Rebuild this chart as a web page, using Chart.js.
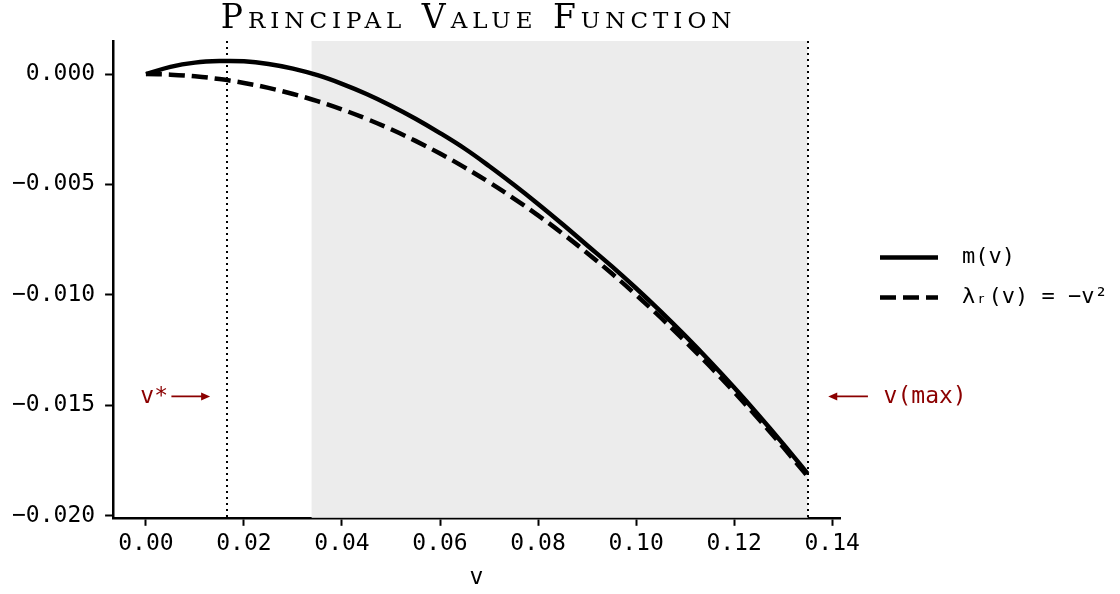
<!DOCTYPE html>
<html>
<head>
<meta charset="utf-8">
<title>Principal Value Function</title>
<script src="https://cdn.jsdelivr.net/npm/chart.js"></script>
<style>
  html, body { margin: 0; padding: 0; background: #fff; }
</style>
</head>
<body>
<canvas id="chart" width="1120" height="594"></canvas>
<script>
// sample points along v
const v = [0, 0.005, 0.010, 0.015, 0.020, 0.025, 0.030, 0.035, 0.040, 0.045,
           0.050, 0.055, 0.060, 0.065, 0.070, 0.075, 0.080, 0.085, 0.090, 0.095,
           0.100, 0.105, 0.110, 0.115, 0.120, 0.125, 0.130, 0.135];
// principal value m(v)
const mv = [0, 0.00033, 0.00052, 0.00059, 0.00058, 0.00046, 0.00025, -0.00005, -0.00044, -0.00090,
            -0.00143, -0.00202, -0.00267, -0.00337, -0.00416, -0.00500, -0.00588, -0.00680, -0.00775, -0.00870,
            -0.00970, -0.01075, -0.01185, -0.01300, -0.01420, -0.01545, -0.01675, -0.01810];
// lambda_r(v) = -v^2
const lambdaR = [0, -0.000025, -0.0001, -0.000225, -0.0004, -0.000625, -0.0009, -0.001225, -0.0016, -0.002025,
                 -0.0025, -0.003025, -0.0036, -0.004225, -0.0049, -0.005625, -0.0064, -0.007225, -0.0081, -0.009025,
                 -0.01, -0.011025, -0.0121, -0.013225, -0.0144, -0.015625, -0.0169, -0.018225];

const xTicks = [0, 0.02, 0.04, 0.06, 0.08, 0.10, 0.12, 0.14];
const xTickLabels = ['0.00', '0.02', '0.04', '0.06', '0.08', '0.10', '0.12', '0.14'];
const yTicks = [0, -0.005, -0.010, -0.015, -0.020];
const yTickLabels = ['0.000', '\u22120.005', '\u22120.010', '\u22120.015', '\u22120.020'];

const vStar = 0.0165;   // optimum of m(v)
const vMax = 0.135;
const vZero = 0.0338;   // m(v) changes sign here, start of the shaded band

const arrowLabels = ['v*', 'v(max)'];
const arrowLabelX = [0.0045, 0.1505];
const arrowTail = [0.0052, 0.1473];
const arrowHead = [0.0131, 0.1392];
const arrowY = -0.0146;

const MONO = '"DejaVu Sans Mono", monospace';
const RED = '#8b0000';

const extras = {
  id: 'extras',
  beforeDatasetsDraw(chart) {
    const { ctx, chartArea: a, scales: { x } } = chart;
    ctx.save();
    ctx.fillStyle = '#ececec';
    ctx.fillRect(x.getPixelForValue(vZero), a.top, x.getPixelForValue(vMax) - x.getPixelForValue(vZero), a.bottom - a.top);
    ctx.restore();
  },
  afterDatasetsDraw(chart) {
    const { ctx, chartArea: a, scales: { x } } = chart;
    ctx.save();
    ctx.strokeStyle = '#000';
    ctx.lineWidth = 2;
    ctx.setLineDash([2, 4]);
    [vStar, vMax].forEach(val => {
      const px = Math.round(x.getPixelForValue(val));
      ctx.beginPath();
      ctx.moveTo(px, a.top);
      ctx.lineTo(px, a.bottom);
      ctx.stroke();
    });
    ctx.restore();
  },
  afterDraw(chart) {
    const { ctx, chartArea: a, scales: { x, y } } = chart;
    ctx.save();

    // arrows pointing at v* and v(max)
    const py = y.getPixelForValue(arrowY);
    ctx.strokeStyle = RED;
    ctx.fillStyle = RED;
    ctx.lineWidth = 1.8;
    ctx.font = '23px ' + MONO;
    ctx.textBaseline = 'middle';
    arrowLabels.forEach((txt, i) => {
      const x0 = x.getPixelForValue(arrowTail[i]);
      const x1 = x.getPixelForValue(arrowHead[i]);
      const dir = Math.sign(x1 - x0);
      ctx.beginPath();
      ctx.moveTo(x0, py);
      ctx.lineTo(x1 - dir * 6, py);
      ctx.stroke();
      ctx.beginPath();
      ctx.moveTo(x1, py);
      ctx.lineTo(x1 - dir * 9, py - 4);
      ctx.lineTo(x1 - dir * 9, py + 4);
      ctx.closePath();
      ctx.fill();
      ctx.textAlign = dir > 0 ? 'right' : 'left';
      ctx.fillText(txt, x.getPixelForValue(arrowLabelX[i]), py + 1);
    });

    // legend
    const midY = (a.top + a.bottom) / 2 - 2;
    ctx.font = '22px ' + MONO;
    ctx.textAlign = 'left';
    ctx.fillStyle = '#000';
    chart.data.datasets.forEach((ds, i) => {
      const ly = midY + (i - 0.5) * 40;
      const lx = a.right + 40;
      ctx.strokeStyle = ds.borderColor;
      ctx.lineWidth = ds.borderWidth;
      ctx.setLineDash(ds.borderDash || []);
      ctx.beginPath();
      ctx.moveTo(lx, ly);
      ctx.lineTo(lx + 58, ly);
      ctx.stroke();
      ctx.fillText(ds.label, lx + 82, ly);
    });

    // title in small caps
    ctx.setLineDash([]);
    ctx.font = 'small-caps 33px "DejaVu Serif", serif';
    ctx.letterSpacing = '5px';
    ctx.textAlign = 'center';
    ctx.textBaseline = 'alphabetic';
    ctx.fillText('Principal Value Function', (a.left + a.right) / 2 + 2, 28);
    ctx.restore();
  }
};

new Chart(document.getElementById('chart'), {
  type: 'line',
  data: {
    datasets: [
      {
        label: 'm(v)',
        data: v.map((val, i) => ({ x: val, y: mv[i] })),
        borderColor: '#000',
        borderWidth: 4.5,
        pointRadius: 0,
        tension: 0.4,
        order: 2
      },
      {
        label: '\u03bb\u1d63(v) = \u2212v\u00b2',
        data: v.map((val, i) => ({ x: val, y: lambdaR[i] })),
        borderColor: '#000',
        borderWidth: 4.5,
        borderDash: [16, 7],
        pointRadius: 0,
        tension: 0.4,
        order: 1
      }
    ]
  },
  options: {
    responsive: false,
    animation: false,
    devicePixelRatio: 1,
    layout: { padding: { top: 41, left: 2, right: 280, bottom: 0 } },
    plugins: {
      legend: { display: false },
      title: { display: false },
      tooltip: { enabled: false }
    },
    scales: {
      x: {
        type: 'linear',
        min: -0.0067,
        max: 0.1416,
        afterBuildTicks: s => { s.ticks = xTicks.map(t => ({ value: t })); },
        ticks: {
          autoSkip: false,
          maxRotation: 0,
          padding: 4,
          color: '#000',
          font: { family: MONO, size: 23 },
          callback: (val, i) => xTickLabels[i]
        },
        grid: { drawOnChartArea: false, drawTicks: true, tickLength: 8, tickWidth: 2, tickColor: '#000' },
        border: { display: true, color: '#000', width: 2.5 },
        title: {
          display: true,
          text: 'v',
          color: '#000',
          font: { family: MONO, size: 23 },
          padding: { top: 3, bottom: 2 }
        }
      },
      y: {
        type: 'linear',
        min: -0.0201,
        max: 0.0015,
        afterBuildTicks: s => { s.ticks = yTicks.map(t => ({ value: t })); },
        ticks: {
          autoSkip: false,
          padding: 10,
          color: '#000',
          font: { family: MONO, size: 23 },
          callback: (val, i) => yTickLabels[i]
        },
        grid: { drawOnChartArea: false, drawTicks: true, tickLength: 8, tickWidth: 2, tickColor: '#000' },
        border: { display: true, color: '#000', width: 2.5 }
      }
    }
  },
  plugins: [extras]
});
</script>
</body>
</html>
